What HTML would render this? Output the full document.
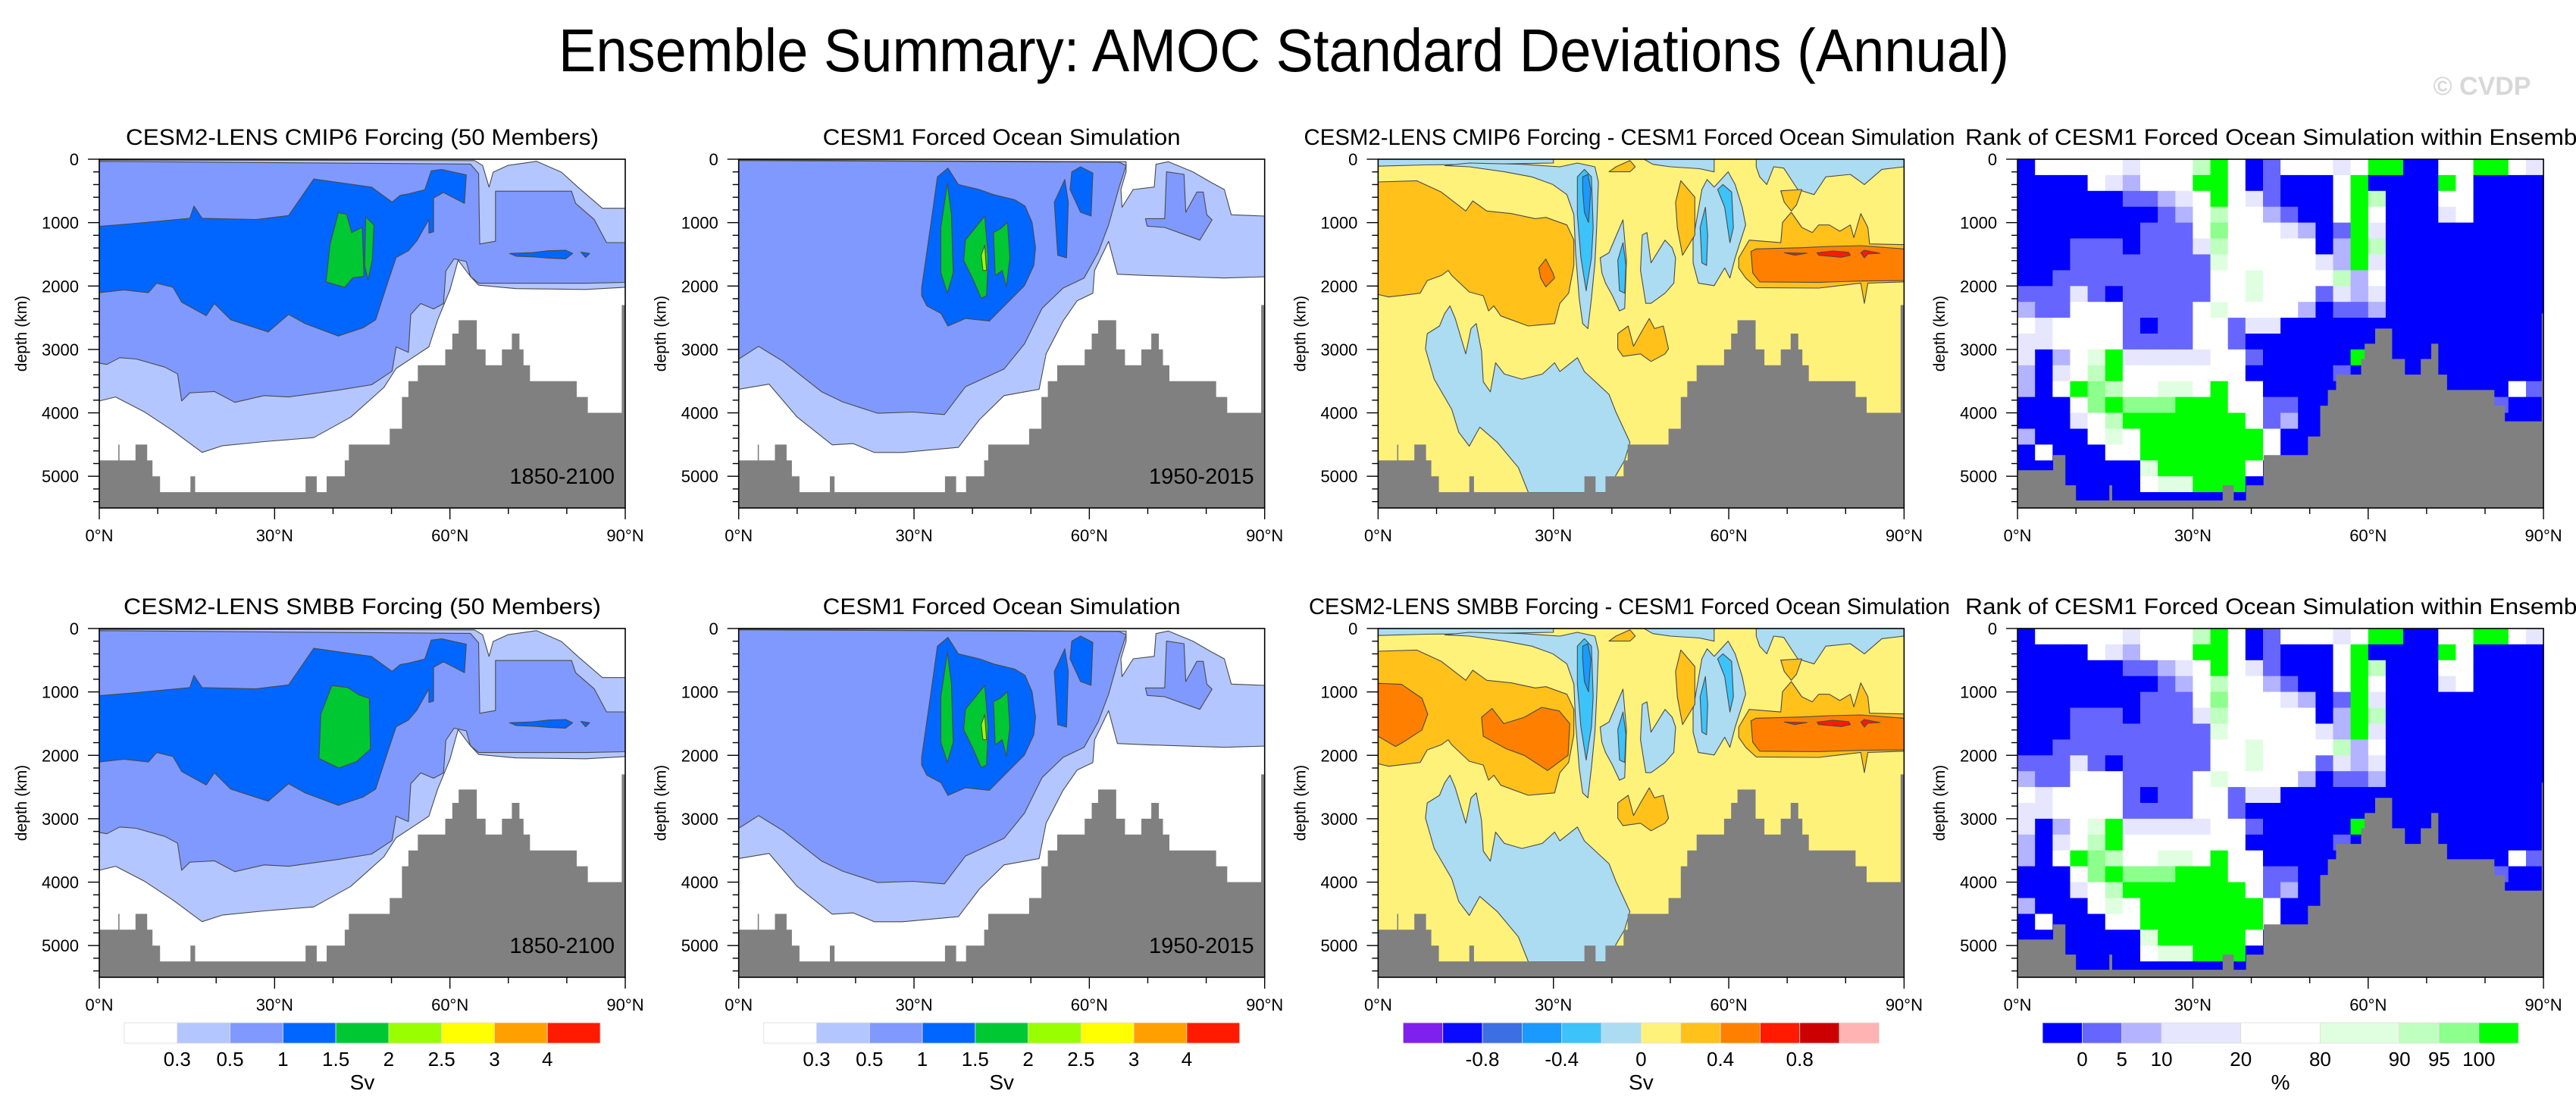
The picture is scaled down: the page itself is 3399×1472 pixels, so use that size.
<!DOCTYPE html>
<html><head><meta charset="utf-8"><title>Ensemble Summary: AMOC Standard Deviations (Annual)</title>
<style>body{margin:0;background:#fff}svg text{font-family:"Liberation Sans",Arial,sans-serif}</style></head>
<body>
<svg id="fig" xmlns="http://www.w3.org/2000/svg" width="3399" height="1467" viewBox="0 0 3399 1467">
<rect x="0" y="0" width="3399" height="1467" fill="#fff"/>
<text x="1694" y="94" font-size="80" text-anchor="middle" textLength="1914" lengthAdjust="spacingAndGlyphs">Ensemble Summary: AMOC Standard Deviations (Annual)</text>
<text x="3275" y="125" font-size="34" font-weight="bold" fill="#d8d8d8" text-anchor="middle">© CVDP</text>
</svg>
<script>
const NS="http://www.w3.org/2000/svg";
const latTicks=[0,30,60,90];
const latTickLabels=["0°N","30°N","60°N","90°N"];
const depthTicks=[0,1000,2000,3000,4000,5000];
const depthMax=5500;
const topoEdges=[0,3.25,3.46,6.2,8.2,9.1,10.4,15.6,16.4,35.3,37.2,38.9,42.0,42.7,49.7,51.8,52.9,54.5,59.2,60.4,61.5,64.6,66.1,68.9,70.6,71.9,72.6,73.7,81.7,83.6,89.4,90];
const topoDepths=[4750,4500,4750,4500,4750,5000,5250,5000,5250,5000,5250,5000,4750,4500,4250,3750,3500,3250,3000,2750,2540,3000,3250,3000,2750,3000,3250,3500,3750,4000,2300];
const topoEdges4=[0,6.1,8.2,10,15.7,16.2,35.1,37,39.1,42.1,49.7,51.8,53.1,54.5,58.8,59.4,61.2,64.1,66.3,69,70.8,72,73.5,81.6,83.4,89.7,90];
const topoDepths4=[4904,4665,5143,5382,5143,5382,5143,5382,5143,4665,4374,3887,3640,3397,3150,2910,2671,3150,3397,3150,2910,3397,3640,3887,4134,2432];

// CESM2-LENS std dev contours [lat, depth]
const sd1Light=[[0,13],[64.2,21],[65.6,98],[66.7,440],[67.4,205],[69.9,98],[74.8,34],[79.1,205],[81.9,440],[86.1,773],[90,773],[90,2020],[83.3,2054],[71.3,2041],[64.9,1986],[63.5,1849],[61.4,1593],[60,2062],[57.9,2532],[56.4,2959],[53.6,3130],[50.8,3300],[48.7,3600],[43,4069],[36.7,4390],[28.2,4454],[21.1,4518],[17.6,4624],[12.6,4283],[7.7,3984],[2.8,3749],[0,3813]];
const sd1Mid=[[0,34],[63.5,77],[64.9,226],[65.1,1337],[67.8,1294],[67.8,504],[80.8,504],[81.5,696],[84.7,952],[86.8,1315],[90,1315],[90,1943],[83.3,1956],[64.9,1956],[63.5,1849],[62.8,1614],[60.7,1571],[59.3,1764],[58.9,2276],[57.2,2361],[55,2276],[53.3,2447],[52.9,3045],[50.8,2959],[50.1,3343],[46.6,3557],[40.9,3642],[32.4,3749],[28.2,3728],[23.2,3834],[19.7,3664],[15.5,3685],[14.1,3813],[13.4,3386],[11.2,3279],[6.3,3151],[3.5,3130],[1.3,3237],[0,3215]];
const sd1Dark=[[0,1059],[5.6,1016],[15.5,931],[16.2,739],[17.6,931],[26.8,952],[32.4,888],[36.7,312],[41.6,376],[46.6,440],[50.1,675],[51.5,568],[52.9,547],[55.7,482],[56.8,183],[58.6,162],[62.8,248],[62.5,696],[60.7,611],[58.9,525],[57.2,611],[57.2,1144],[56.4,1166],[56.4,952],[54.3,1294],[52.9,1444],[50.8,1550],[49.4,1934],[47.3,2532],[45.1,2660],[40.9,2788],[35.3,2596],[32.4,2447],[28.9,2724],[22.5,2532],[19.7,2276],[18.3,2468],[14.1,2255],[12.6,2020],[9.8,1956],[8.4,2105],[4.2,2062],[0,2105]];
const sd1GreenA=[[38.8,1934],[39.5,1337],[40.9,845],[42.3,867],[43.2,1157],[45,1072],[45.3,1849],[43.4,1870],[42,2020]];
const sd1GreenB=[[45.6,910],[47,1038],[46.7,1593],[46,1900],[45.4,1678]];
const sd1SpotA=[[70.2,1486],[74.1,1473],[76.9,1443],[79.8,1435],[81,1486],[79.8,1571],[76.9,1559],[74.5,1541],[71.3,1529]];
const sd1SpotB=[[82.4,1465],[83.9,1486],[83.2,1550]];
const sd5Green=[[37.6,2050],[37.9,1350],[39.8,900],[42.5,930],[44.5,1050],[46.2,1100],[46.4,1900],[44,2100],[41,2200]];

// CESM1 forced ocean std dev contours
const sd2Light=[[0,12],[66.3,40],[66.3,199],[65.4,478],[65.6,758],[67.5,478],[71.1,439],[71.4,80],[73.5,40],[77.7,199],[80.7,359],[83.1,478],[84.3,877],[90,897],[90,1854],[83.1,1874],[69.9,1834],[64.8,1814],[63.3,1296],[60.9,1754],[60.6,2113],[57.9,2233],[55.5,2552],[52.6,3070],[51.4,3628],[45.4,3728],[41.2,4107],[37.6,4545],[28,4625],[23.2,4625],[19.6,4485],[16,4505],[10,4067],[5.2,3548],[0,3628]];
const sd2Mid=[[0,20],[65.1,48],[66.3,100],[65.1,439],[63.3,1036],[61.5,1475],[59.1,1874],[55.5,2033],[51.9,2352],[48.9,2911],[45.4,3309],[38.8,3588],[35.2,4027],[29.8,3987],[23.8,4007],[17.8,3827],[14.2,3668],[7.6,3189],[3.4,2951],[0,3150]];
const sd2MidB=[[69.6,937],[72.9,937],[73.2,199],[76.2,239],[76.5,837],[78.4,518],[79.5,518],[80.1,877],[81,957],[78.9,1276],[72.9,1076],[69.9,1056]];
const sd2Dark=[[31.3,2033],[32.8,1076],[34,279],[35.8,140],[37.6,399],[41.2,478],[43.6,558],[47.2,638],[49,738],[50.2,997],[50.8,1395],[50.5,1675],[48.9,1994],[45.9,2273],[42.9,2552],[38.8,2512],[35.8,2632],[34.6,2432],[32.2,2313],[31.3,2153]];
const sd2DarkB=[[54.0,678],[55.8,319],[56.4,678],[56.1,1555],[54.6,1515]];
const sd2DarkC=[[57.0,199],[58.5,120],[60.6,219],[60.3,897],[58.5,837],[56.7,478]];
const sd2GreenA=[[34.6,1076],[35.7,379],[36.4,877],[36.7,1794],[35.7,2113],[34.6,1794]];
const sd2GreenB=[[38.8,1276],[42.1,897],[42.7,1555],[42.4,2153],[41.5,2193],[40,1874],[38.5,1595]];
const sd2GreenC=[[43.6,1156],[44.8,1096],[46,997],[46.4,1555],[45.8,2013],[45.1,1754],[43.9,1834]];
const sd2Lime=[[41.5,1515],[42.1,1356],[42.4,1754],[41.8,1754]];

// Difference panel contours
const df3Orange=[[0,359],[6.6,339],[10.8,518],[15,817],[16.2,658],[18.6,817],[22.8,857],[26.9,937],[28.7,917],[32.3,1037],[33.5,1276],[33.5,1675],[32.6,2113],[31.1,2273],[30.2,2592],[25.7,2631],[22.8,2532],[21,2472],[19.8,2313],[18.9,2392],[18,2153],[15.6,2093],[12.6,1834],[12,1754],[10.8,1834],[8.4,1914],[7.2,2113],[3.6,2153],[1.8,2173],[0,2133]];
const df3DkOrangeA=[[27.5,1715],[28.7,1575],[29.9,1794],[30.2,1874],[28.7,2013],[27.8,1874]];
const df3TopBlueL=[[0,0],[30,0],[30,60],[18,80],[8,90],[0,110]];
const df3TopBlueM=[[45.5,0],[57.5,0],[57.5,200],[55,150],[50,120],[47,80]];
const df3TopBlueR=[[64.7,0],[90,0],[90,120],[86.2,160],[83.2,399],[80.8,239],[76.6,279],[74.6,558],[71.8,478],[69.4,140],[67.7,120],[66.5,399],[65.3,279],[64.7,120]];
const df3BlueCol=[[31.1,120],[34.1,60],[37.1,120],[37.7,359],[37.4,1076],[37.1,1635],[36.5,2193],[35.9,2671],[35,2592],[34.4,2193],[33.8,1475],[33.5,877],[32.3,558],[29.9,399],[26.3,279],[21.6,199],[15.6,120],[11.4,100],[15.6,60],[24.6,80]];
const df3MidBlueCol=[[34.1,279],[35.3,160],[36.5,279],[36.8,1076],[36.5,1555],[35.6,2073],[34.7,1555],[34.1,877]];
const df3DeepBlueCol=[[35,279],[35.9,239],[36.4,478],[36,997],[35.3,837],[35,478]];
const df3BlueC2=[[38,1555],[39.5,1475],[41.9,957],[42.5,1595],[42.2,2352],[41.3,2392],[40.1,2153],[38.9,1954],[38.3,1794]];
const df3MidBlueC2=[[41,1595],[41.9,1316],[42.4,1675],[42.2,2113],[41.3,2073]];
const df3BlueC3=[[45.2,1196],[46,1156],[46.7,1635],[49.1,1276],[50.3,1395],[50.9,1555],[50.6,1954],[49.1,2113],[46.7,2273],[45.8,2273],[44.9,1754]];
const df3BlueC4=[[53.9,1276],[55.4,478],[56.3,319],[57.5,439],[59.9,199],[61.1,399],[62.3,758],[62.9,1037],[61.1,1555],[60.2,1874],[59.3,1714],[57.5,1994],[54.8,1954],[53.9,1635]];
const df3MidBlueC4a=[[55.1,1076],[56,758],[56.4,1196],[56.2,1675],[55.4,1635]];
const df3MidBlueC4b=[[58.1,478],[59,399],[60.5,518],[60.8,1076],[60.2,1316],[59.3,758]];
const df3OrangeB=[[50.9,678],[51.8,339],[54.2,598],[54.2,1196],[52.1,1515],[51.2,1076]];
const df3OrangeC=[[40.7,120],[43.1,20],[44,120],[43.1,199],[39.5,199]];
const df3OrangeBand=[[61.7,1555],[63.5,1276],[68.9,1316],[69.2,997],[70.7,837],[72.5,1076],[74.3,1156],[75.4,1037],[77.2,1037],[79,1136],[80.8,1037],[81.4,1236],[82.6,857],[83.8,1076],[84.1,1336],[90,1348],[90,1934],[83.8,1954],[83.2,2273],[82.6,1954],[75.4,2033],[64.7,2025],[62.9,1874],[61.7,1714]];
const df3OrangeTop=[[68.9,498],[72.5,478],[71.6,718],[70.7,817],[69.5,678]];
const df3DkOrangeBand=[[63.8,1455],[64.7,1415],[72.5,1395],[77.2,1375],[82.6,1363],[90,1415],[90,1914],[82.6,1922],[75.4,1942],[65.3,1934],[64.1,1794]];
const df3RedA=[[69.5,1475],[73.4,1483],[71.3,1515]];
const df3RedB=[[75.1,1475],[77.8,1447],[80.5,1467],[80.8,1515],[79.3,1547],[75.4,1515]];
const df3RedC=[[82.6,1475],[83.2,1435],[85.9,1483],[83.8,1495],[83.2,1555]];
const df3OrangeMid=[[41,2751],[42.8,2631],[43.7,2950],[44.9,2751],[46.4,2512],[47.3,2671],[48.8,2631],[49.7,2990],[49.1,3070],[46.7,3190],[44.9,3070],[41.9,3110],[41,2990]];
const df3BlueBig=[[8.1,2990],[8.4,2751],[10.5,2631],[11.4,2432],[12.3,2313],[13.2,2512],[15,3070],[15.9,2671],[16.8,2592],[17.7,3030],[18,3509],[19.2,3668],[20.1,3210],[21.6,3389],[24.6,3469],[28.1,3389],[30.2,3210],[31.1,3349],[34.1,3130],[35.3,3349],[39.5,3708],[40.7,3987],[43.1,4465],[42.2,4745],[40.7,4984],[39.5,5255],[25.7,5255],[24,4864],[20.4,4465],[17.4,4226],[15.6,4525],[13.8,4306],[12.6,3947],[9.6,3469]];
const df7DkOrangeA=[[0,865],[4,880],[7.5,1100],[8.5,1350],[7.5,1600],[4.5,1780],[3,1860],[0,1700]];
const df7DkOrangeB=[[17.7,1400],[19.5,1260],[21.5,1500],[25,1400],[28,1244],[31,1300],[32.8,1500],[32.5,2000],[29,2240],[25,2000],[22,1900],[18,1700]];

// Rank grid: rows of 250 m, columns of 3 degrees
const rankRows=[
"BwwwwwpwwwGVwBbwwwpwVVBBwwVVwp",
"BBBBwplwwwVVwBbBBBwVBBBBVwBBBB",
"BBBBBBbblpwVwpbBBBwVGBBBwwBBBB",
"BBBBBBBBblwGwwlbBBwVwBBBpwBBBB",
"BBBBBBBbbbwhwwwplBbVpBBBBBBBBB",
"BBBbbbBbbbpGwwwwwBlVGBBBBBBBBB",
"BBBbbbbbbbbgwwwwwplVpBBBBBBBBB",
"BBbbbbbbbbbwwgwwwwGlwBBBBBBBBB",
"bbbpbBbbbbbwwgwwwbplpBBBBBBBBB",
"lbbwwwbbbbwgwwwwlBbblBBBBBBBBB",
"wpwwwwbBbbwwbppBBBBBBBBBBBBBBB",
"ppwwwwbbbbwwbBBBBBBBBBBBBBBBBB",
"pBlwgVpppppwwbBBBBBVBBBBBBBBBB",
"lBpwGVwwwwwwwBBBBBbBBBBBBBBBBB",
"lBwVhGwwggwVwwBBBBBBBBBBBBBBwb",
"BBBwhVhhhVVVwwbbBBBBBBBBBBBbBB",
"BBBpwGVVVVVVVwblBBBBBBBBBBBBBB",
"lBBBwgwVVVVVVVwBBBBBBBBBBBBBBB",
"BwBBBwwVVVVVVVwBBBBBBBBBBBBBBB",
"BBBBBBBgVVVVVwBBBBBBBBBBBBBBBB",
"BBBBBBBwggVVVBBBBBBBBBBBBBBBBB",
"BBBBBBBBBBBBBBBBBBBBBBBBBBBBBB"];
const rankColors={B:"#0000ff",b:"#6666ff",l:"#b3b3ff",p:"#e6e6ff",w:"#ffffff",g:"#e0ffe0",G:"#bfffbf",h:"#8cff8c",V:"#00ff00"};

// Colorbars
const sdColors=["#ffffff","#b3c6ff","#8099ff","#0066ff","#00c832","#99ff00","#ffff00","#ffa000","#ff1a00"];
const sdLabels=["0.3","0.5","1","1.5","2","2.5","3","4"];
const dfColors=["#8020ee","#0a0aff","#3c6ee4","#1a99ff","#3cc3fa","#acdcf2","#fff27a","#ffc11a","#ff8000","#ff1a00","#cc0000","#ffb3b3"];
const dfLabels=["-0.8","-0.4","0","0.4","0.8"];
const dfLabelIdx=[2,4,6,8,10];
const rkColors=["#0000ff","#6666ff","#b3b3ff","#e6e6ff","#ffffff","#e0ffe0","#bfffbf","#8cff8c","#00ff00"];
const rkUnits=[1,1,1,2,2,2,1,1,1];
const rkLabels=["0","5","10","20","80","90","95","100"];

const C={light:"#b3c6ff",mid:"#8099ff",dark:"#0066ff",green:"#00c832",lime:"#99ff00",
 yel:"#fff27a",org:"#ffc11a",dorg:"#ff8000",red:"#ff1a00",lb:"#acdcf2",mb:"#3cc3fa",db:"#1a99ff",topo:"#808080"};

const svg=document.getElementById('fig');
function mk(tag,attrs,parent){const e=document.createElementNS(NS,tag);for(const k in attrs)e.setAttribute(k,attrs[k]);(parent||svg).appendChild(e);return e;}

const PX0=131,PSTEP=843.7,PW=694,PH=460,ROWY=[210,829];
function geom(col,row){const x0=PX0+col*PSTEP,y0=ROWY[row];
 return {x0,y0,xs:lat=>x0+lat/90*PW,ys:d=>y0+d/depthMax*PH};}

function poly(g,G,pts,fill,name){
 const p=mk('polygon',{points:pts.map(q=>G.xs(q[0]).toFixed(1)+','+G.ys(q[1]).toFixed(1)).join(' '),fill:fill,stroke:'#4a4a4a','stroke-width':1.1,'stroke-linejoin':'round'},g);
 
 
}
function topo(g,G,edges,depths){
 let pts=[[edges[0],depthMax]];
 for(let i=0;i<depths.length;i++){pts.push([edges[i],depths[i]]);pts.push([edges[i+1],depths[i]]);}
 pts.push([edges[edges.length-1],depthMax]);
 const p=mk('polygon',{points:pts.map(q=>G.xs(q[0]).toFixed(1)+','+G.ys(q[1]).toFixed(1)).join(' '),fill:C.topo},g);
 
 
}
function axes(G,row,name){
 const g=mk('g',{});
 
 
 const fr=mk('rect',{x:G.x0,y:G.y0,width:PW,height:PH,fill:'none',stroke:'#000','stroke-width':1.6},g);
 
 
 for(let d=0;d<=depthMax;d+=200){const major=d%1000===0;
  mk('line',{x1:G.x0,x2:G.x0-(major?15:8),y1:G.ys(d),y2:G.ys(d),stroke:'#000','stroke-width':1.4},g);}
 depthTicks.forEach(d=>{const t=mk('text',{x:G.x0-27,y:G.ys(d)+8,'font-size':22,'text-anchor':'end'},g);t.textContent=String(d);
  
  });
 for(let l=0;l<=90;l+=10){const major=l%30===0;
  mk('line',{x1:G.xs(l),x2:G.xs(l),y1:G.y0+PH,y2:G.y0+PH+(major?15:8),stroke:'#000','stroke-width':1.4},g);}
 latTicks.forEach((l,i)=>{const t=mk('text',{x:G.xs(l),y:G.y0+PH+44,'font-size':22,'text-anchor':'middle'},g);t.textContent=latTickLabels[i];
  
  });
 const yl=mk('text',{x:0,y:0,'font-size':21,'text-anchor':'middle',transform:`translate(${G.x0-96},${G.y0+PH/2}) rotate(-90)`},g);
 yl.textContent='depth (km)';
 
 
}
function title(G,txt,cx,w){
 const t=mk('text',{x:cx,y:G.y0-19,'font-size':30,'text-anchor':'middle',textLength:w,lengthAdjust:'spacingAndGlyphs'});
 t.textContent=txt;
 
 
}
function panelGroup(G,name,bg){
 const id='clip-'+name;
 const cp=mk('clipPath',{id:id});
 mk('rect',{x:G.x0,y:G.y0,width:PW,height:PH},cp);
 const g=mk('g',{'clip-path':`url(#${id})`});
 
 
 mk('rect',{x:G.x0,y:G.y0,width:PW,height:PH,fill:bg},g);
 return g;
}
function yearLabel(G,txt){
 const t=mk('text',{x:G.x0+PW-14,y:G.y0+PH-32,'font-size':29,'text-anchor':'end'});
 t.textContent=txt;
 
 
}

// ---- SD panels (col 0 = CESM2, col 1 = CESM1)
[0,1].forEach(row=>{
 const G=geom(0,row);const g=panelGroup(G,'cesm2-sd-panel-'+row,'#fff');
 poly(g,G,sd1Light,C.light,'contour-0.3');poly(g,G,sd1Mid,C.mid,'contour-0.5');poly(g,G,sd1Dark,C.dark,'contour-1');
 if(row===0){poly(g,G,sd1GreenA,C.green,'contour-1.5');poly(g,G,sd1GreenB,C.green,'contour-1.5');}
 else{poly(g,G,sd5Green,C.green,'contour-1.5');}
 poly(g,G,sd1SpotA,C.dark,'contour-1');poly(g,G,sd1SpotB,C.dark,'contour-1');
 topo(g,G,topoEdges,topoDepths);
 axes(G,row,'cesm2-sd-'+row);
 yearLabel(G,'1850-2100');
 title(G,row===0?'CESM2-LENS CMIP6 Forcing (50 Members)':'CESM2-LENS SMBB Forcing (50 Members)',G.x0+PW/2,row===0?624:630);
 const G2=geom(1,row);const g2=panelGroup(G2,'cesm1-sd-panel-'+row,'#fff');
 poly(g2,G2,sd2Light,C.light,'contour-0.3');poly(g2,G2,sd2Mid,C.mid,'contour-0.5');poly(g2,G2,sd2MidB,C.mid,'contour-0.5');
 poly(g2,G2,sd2Dark,C.dark,'contour-1');poly(g2,G2,sd2DarkB,C.dark,'contour-1');poly(g2,G2,sd2DarkC,C.dark,'contour-1');
 poly(g2,G2,sd2GreenA,C.green,'contour-1.5');poly(g2,G2,sd2GreenB,C.green,'contour-1.5');poly(g2,G2,sd2GreenC,C.green,'contour-1.5');
 poly(g2,G2,sd2Lime,C.lime,'contour-2');
 topo(g2,G2,topoEdges,topoDepths);
 axes(G2,row,'cesm1-sd-'+row);
 yearLabel(G2,'1950-2015');
 title(G2,'CESM1 Forced Ocean Simulation',G2.x0+PW/2,472);
 // ---- difference panels
 const G3=geom(2,row);const g3=panelGroup(G3,'difference-panel-'+row,C.yel);
 poly(g3,G3,df3Orange,C.org,'diff-0.2');
 if(row===0){poly(g3,G3,df3DkOrangeA,C.dorg,'diff-0.4');}
 else{poly(g3,G3,df7DkOrangeA,C.dorg,'diff-0.4');poly(g3,G3,df7DkOrangeB,C.dorg,'diff-0.4');}
 poly(g3,G3,df3TopBlueL,C.lb,'diff-neg');poly(g3,G3,df3TopBlueM,C.lb,'diff-neg');poly(g3,G3,df3TopBlueR,C.lb,'diff-neg');
 poly(g3,G3,df3BlueCol,C.lb,'diff-neg');poly(g3,G3,df3MidBlueCol,C.mb,'diff-neg-0.2');poly(g3,G3,df3DeepBlueCol,C.db,'diff-neg-0.4');
 poly(g3,G3,df3BlueC2,C.lb,'diff-neg');poly(g3,G3,df3MidBlueC2,C.mb,'diff-neg-0.2');
 poly(g3,G3,df3BlueC3,C.lb,'diff-neg');
 poly(g3,G3,df3BlueC4,C.lb,'diff-neg');poly(g3,G3,df3MidBlueC4a,C.mb,'diff-neg-0.2');poly(g3,G3,df3MidBlueC4b,C.mb,'diff-neg-0.2');
 poly(g3,G3,df3OrangeB,C.org,'diff-0.2');poly(g3,G3,df3OrangeC,C.org,'diff-0.2');
 poly(g3,G3,df3OrangeBand,C.org,'diff-0.2');poly(g3,G3,df3OrangeTop,C.org,'diff-0.2');
 poly(g3,G3,df3DkOrangeBand,C.dorg,'diff-0.4');
 poly(g3,G3,df3RedA,C.red,'diff-0.6');poly(g3,G3,df3RedB,C.red,'diff-0.6');poly(g3,G3,df3RedC,C.red,'diff-0.6');
 poly(g3,G3,df3OrangeMid,C.org,'diff-0.2');poly(g3,G3,df3BlueBig,C.lb,'diff-neg');
 topo(g3,G3,topoEdges,topoDepths);
 axes(G3,row,'difference-'+row);
 title(G3,row===0?'CESM2-LENS CMIP6 Forcing - CESM1 Forced Ocean Simulation':'CESM2-LENS SMBB Forcing - CESM1 Forced Ocean Simulation',2150,row===0?859:846);
 // ---- rank panels
 const G4=geom(3,row);const g4=panelGroup(G4,'rank-panel-'+row,'#fff');
 rankRows.forEach((rs,r)=>{for(let c=0;c<rs.length;c++){
  const x1=G4.xs(c*3),x2=G4.xs(c*3+3),y1=G4.ys(r*250),y2=G4.ys(r*250+250);
  const cell=mk('rect',{x:x1.toFixed(1),y:y1.toFixed(1),width:(x2-x1+0.6).toFixed(1),height:(y2-y1+0.6).toFixed(1),fill:rankColors[rs[c]]},g4);
  
  }});
 topo(g4,G4,topoEdges4,topoDepths4);
 axes(G4,row,'rank-'+row);
 const t4=mk('text',{x:G4.x0+PW/2,y:G4.y0-19,'font-size':30,'text-anchor':'middle',textLength:832,lengthAdjust:'spacingAndGlyphs'});
 t4.textContent='Rank of CESM1 Forced Ocean Simulation within Ensemble';
 
 
});

// ---- colorbars
function colorbar(col,colors,units,labels,labelIdx,unitTxt,name){
 const G=geom(col,1);const cx=G.x0+PW/2,W=628,x0=cx-W/2,y0=1349,H=27;
 const g=mk('g',{});
 
 
 const tot=units.reduce((a,b)=>a+b,0);let acc=0;const bx=[];
 colors.forEach((c,i)=>{const xa=x0+acc/tot*W;acc+=units[i];const xb=x0+acc/tot*W;bx.push(xa);
  const r=mk('rect',{x:xa,y:y0,width:xb-xa,height:H,fill:c,stroke:'#ddd','stroke-width':0.8},g);
  
  });
 bx.push(x0+W);
 labels.forEach((l,i)=>{const t=mk('text',{x:bx[labelIdx[i]],y:1406,'font-size':26,'text-anchor':'middle'},g);t.textContent=l;
  
  });
 const u=mk('text',{x:cx,y:1437,'font-size':28,'text-anchor':'middle'},g);u.textContent=unitTxt;
 
 
}
const ones9=sdColors.map(()=>1),ones12=dfColors.map(()=>1);
colorbar(0,sdColors,ones9,sdLabels,[1,2,3,4,5,6,7,8],'Sv','colorbar-cesm2-sd');
colorbar(1,sdColors,ones9,sdLabels,[1,2,3,4,5,6,7,8],'Sv','colorbar-cesm1-sd');
colorbar(2,dfColors,ones12,dfLabels,dfLabelIdx,'Sv','colorbar-difference');
colorbar(3,rkColors,rkUnits,rkLabels,[1,2,3,4,5,6,7,8],'%','colorbar-rank');
</script>
</body></html>
